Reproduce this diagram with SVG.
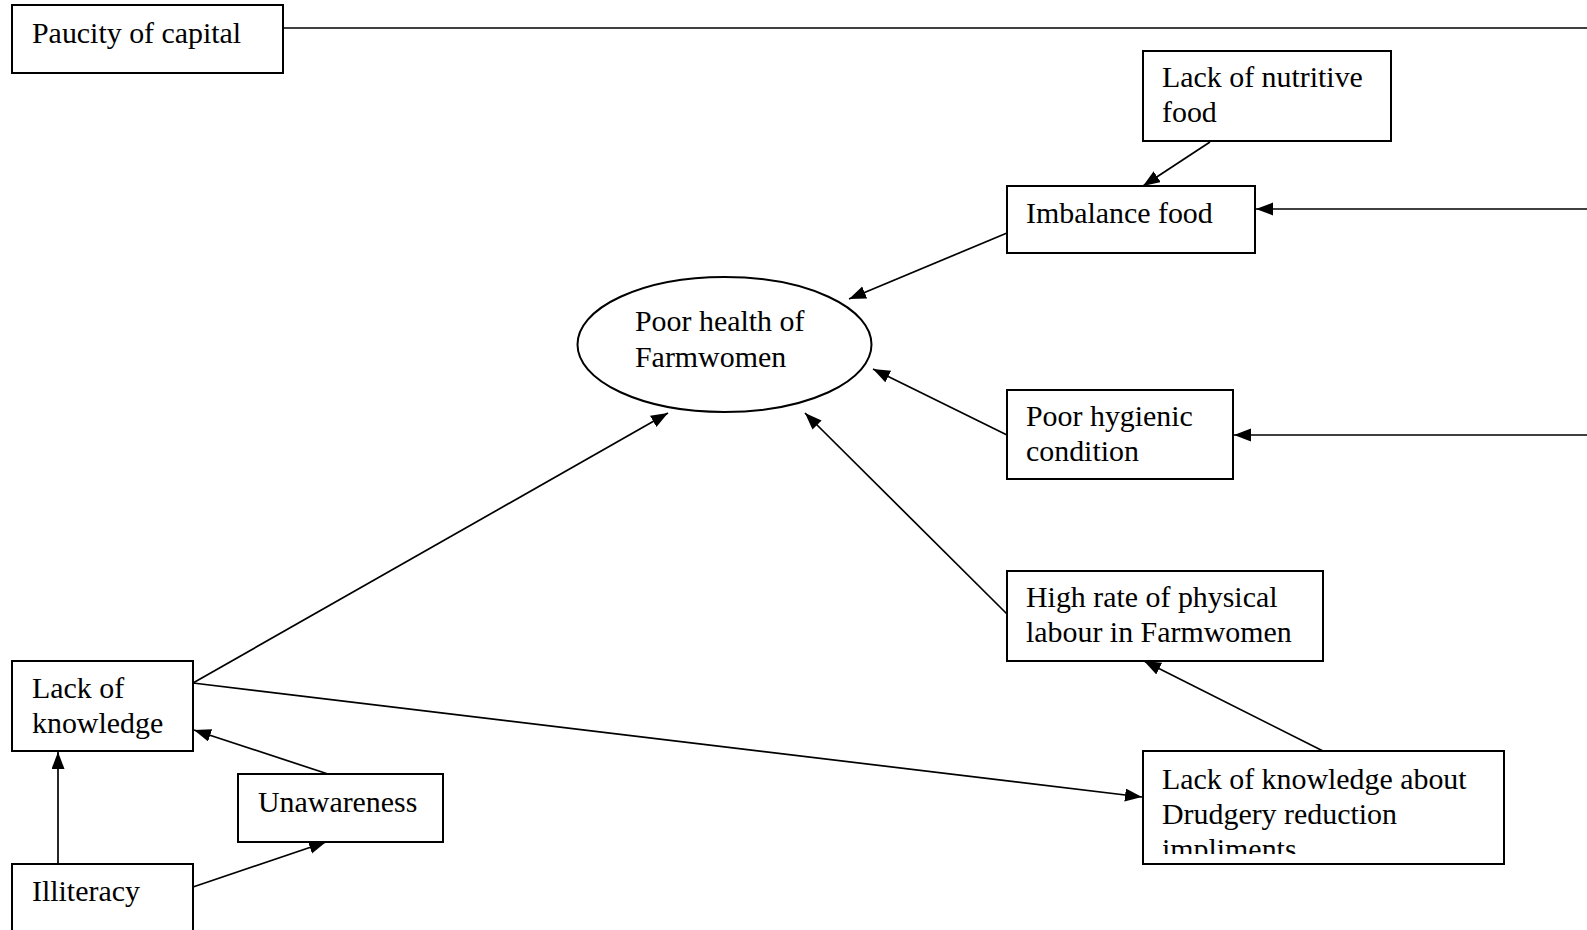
<svg xmlns="http://www.w3.org/2000/svg" width="1587" height="930" viewBox="0 0 1587 930">
  <style>
    .box { fill: #ffffff; stroke: #000000; stroke-width: 2; }
    .lbl { font-family: "Liberation Serif", "Times New Roman", serif; font-size: 29.9px; fill: #000000; }
    .edge { fill: none; stroke: #000000; stroke-width: 1.7; }
    .arrow { marker-end: url(#head); }
  </style>
  <defs>
    <marker id="head" markerUnits="userSpaceOnUse" markerWidth="20" markerHeight="16" refX="17" refY="6.5" orient="auto">
      <path d="M0,0 L17,6.5 L0,13 Z" fill="#000000"/>
    </marker>
    <clipPath id="clip-drudgery">
      <rect x="1143" y="751" width="361" height="103"/>
    </clipPath>
  </defs>

  <rect width="1587" height="930" fill="#ffffff"/>

  <!-- connectors -->
  <g id="connectors">
    <line class="edge" x1="283" y1="28" x2="1587" y2="28"/>
    <line class="edge arrow" x1="1210" y1="142" x2="1143" y2="186"/>
    <line class="edge arrow" x1="1587" y1="209" x2="1256" y2="209"/>
    <line class="edge arrow" x1="1007" y1="233" x2="849" y2="299"/>
    <line class="edge arrow" x1="1587" y1="435" x2="1234" y2="435"/>
    <line class="edge arrow" x1="1007" y1="435" x2="873" y2="369"/>
    <line class="edge arrow" x1="1007" y1="614" x2="805" y2="413"/>
    <line class="edge arrow" x1="1323" y1="751" x2="1144" y2="661"/>
    <line class="edge arrow" x1="193" y1="683" x2="1142" y2="797"/>
    <line class="edge arrow" x1="193" y1="683" x2="668" y2="413"/>
    <line class="edge arrow" x1="328" y1="774" x2="194" y2="730"/>
    <line class="edge arrow" x1="58" y1="864" x2="58" y2="752"/>
    <line class="edge arrow" x1="193" y1="887" x2="326" y2="842"/>
  </g>

  <g id="paucity">
    <rect class="box" x="12" y="5" width="271" height="68"/>
    <text class="lbl" x="32" y="43">Paucity of capital</text>
  </g>

  <g id="nutritive">
    <rect class="box" x="1143" y="51" width="248" height="90"/>
    <text class="lbl" x="1162" y="87">Lack of nutritive</text>
    <text class="lbl" x="1162" y="122">food</text>
  </g>

  <g id="imbalance">
    <rect class="box" x="1007" y="186" width="248" height="67"/>
    <text class="lbl" x="1026" y="223">Imbalance food</text>
  </g>

  <g id="poor-health">
    <ellipse class="box" cx="724.5" cy="344.5" rx="147" ry="67.5"/>
    <text class="lbl" x="635" y="331">Poor health of</text>
    <text class="lbl" x="635" y="367">Farmwomen</text>
  </g>

  <g id="hygiene">
    <rect class="box" x="1007" y="390" width="226" height="89"/>
    <text class="lbl" x="1026" y="426">Poor hygienic</text>
    <text class="lbl" x="1026" y="461">condition</text>
  </g>

  <g id="labour">
    <rect class="box" x="1007" y="571" width="316" height="90"/>
    <text class="lbl" x="1026" y="607">High rate of physical</text>
    <text class="lbl" x="1026" y="642">labour in Farmwomen</text>
  </g>

  <g id="drudgery">
    <rect class="box" x="1143" y="751" width="361" height="113"/>
    <g clip-path="url(#clip-drudgery)">
      <text class="lbl" x="1162" y="789">Lack of knowledge about</text>
      <text class="lbl" x="1162" y="824">Drudgery reduction</text>
      <text class="lbl" x="1162" y="859">impliments</text>
    </g>
  </g>

  <g id="knowledge">
    <rect class="box" x="12" y="661" width="181" height="90"/>
    <text class="lbl" x="32" y="698">Lack of</text>
    <text class="lbl" x="32" y="733">knowledge</text>
  </g>

  <g id="unawareness">
    <rect class="box" x="238" y="774" width="205" height="68"/>
    <text class="lbl" x="258" y="812">Unawareness</text>
  </g>

  <g id="illiteracy">
    <rect class="box" x="12" y="864" width="181" height="80"/>
    <text class="lbl" x="32" y="901">Illiteracy</text>
  </g>
</svg>
